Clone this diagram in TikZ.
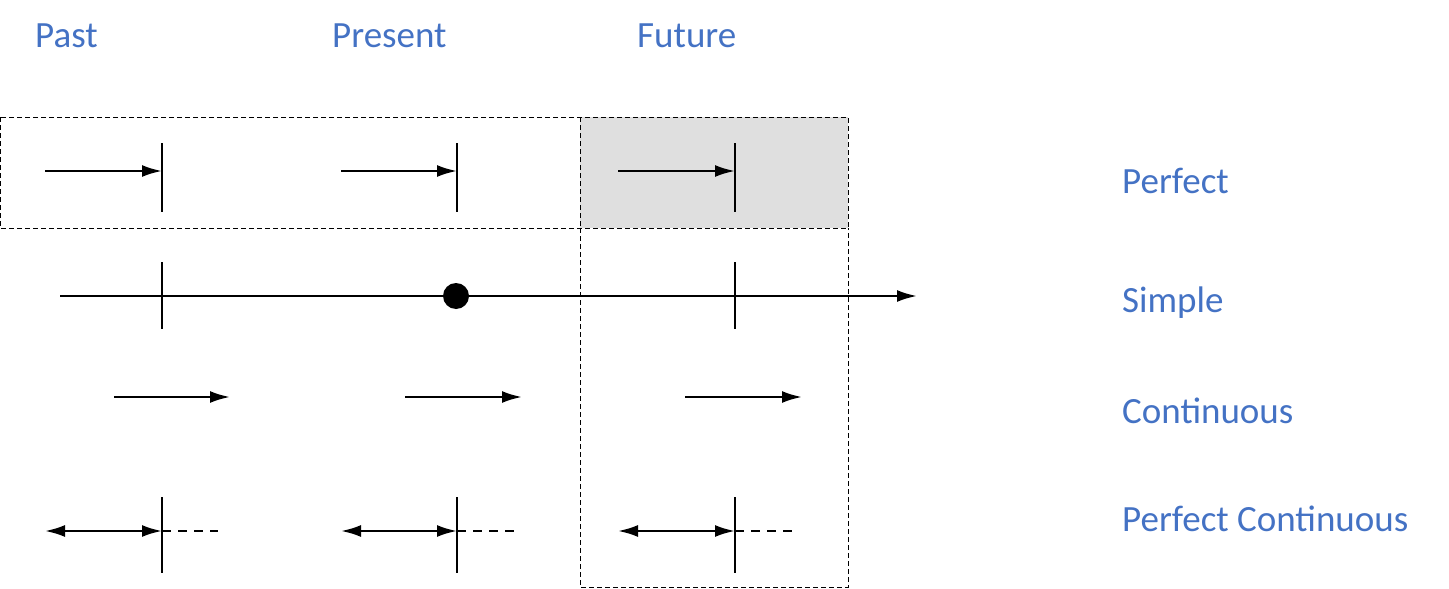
\documentclass[tikz,border=0pt]{standalone}
\usepackage{fontspec}
\setmainfont{Carlito}
\usetikzlibrary{arrows.meta}
\definecolor{lblue}{HTML}{4472C4}
\begin{document}
\begin{tikzpicture}[x=1pt,y=-1pt,
  lbl/.style={text=lblue,font=\fontsize{37}{40}\selectfont,inner sep=0pt},
  ln/.style={line width=2.4pt,-{Latex[length=20pt,width=12pt]}},
  dbl/.style={line width=2.4pt,{Latex[length=20pt,width=12pt]}-{Latex[length=20pt,width=12pt]}},
  tk/.style={line width=2.4pt},
  dsh/.style={line width=2.4pt,dash pattern=on 9pt off 7pt},
  box/.style={line width=0.8pt,dash pattern=on 5pt off 3pt}]
\useasboundingbox (0,0) rectangle (1449,589);
\node[lbl,anchor=west] (past) at (35,36) {Past};
\node[lbl,anchor=west] (pres) at (332,36) {Present};
\node[lbl,anchor=west] (fut) at (637,36) {Future};
\node[lbl,anchor=west] (lp) at (1122,181) {Perfect};
\node[lbl,anchor=west] (ls) at (1122,303) {Simple};
\node[lbl,anchor=west] (lc) at (1122,411) {Continuous};
\node[lbl,anchor=west] (lpc) at (1122,519) {Perfect Continuous};
\fill[gray!25] (580,117) rectangle (848,228);
\draw[box] (0,117) rectangle (848,228);
\draw[box] (580,228) -- (580,587) -- (848,587) -- (848,228);
\draw[box] (580,117) -- (580,228);
% perfect
\foreach \a/\b in {45/162,341/457,618/735}{
  \coordinate (s) at (\a,171); \coordinate (e) at (\b,171);
  \draw[ln] (s) -- (e);
  \draw[tk] (\b,143) -- (\b,212);
}
% simple
\coordinate (t0) at (60,296); \coordinate (t1) at (917,296);
\draw[ln] (t0) -- (t1);
\draw[tk] (162,262) -- (162,329);
\draw[tk] (735,262) -- (735,329);
\fill (456,296) circle (13);
% continuous
\foreach \a/\b in {114/230,405/522,685/802}{
  \coordinate (s) at (\a,397); \coordinate (e) at (\b,397);
  \draw[ln] (s) -- (e);
}
% perfect continuous
\foreach \a/\b/\c in {45/162/218,341/457/514,618/735/792}{
  \coordinate (s) at (\a,531); \coordinate (e) at (\b,531); \coordinate (f) at (\c,531);
  \draw[dbl] (s) -- (e);
  \draw[dsh] (e) -- (f);
  \draw[tk] (\b,497) -- (\b,573);
}
\end{tikzpicture}
\end{document}
